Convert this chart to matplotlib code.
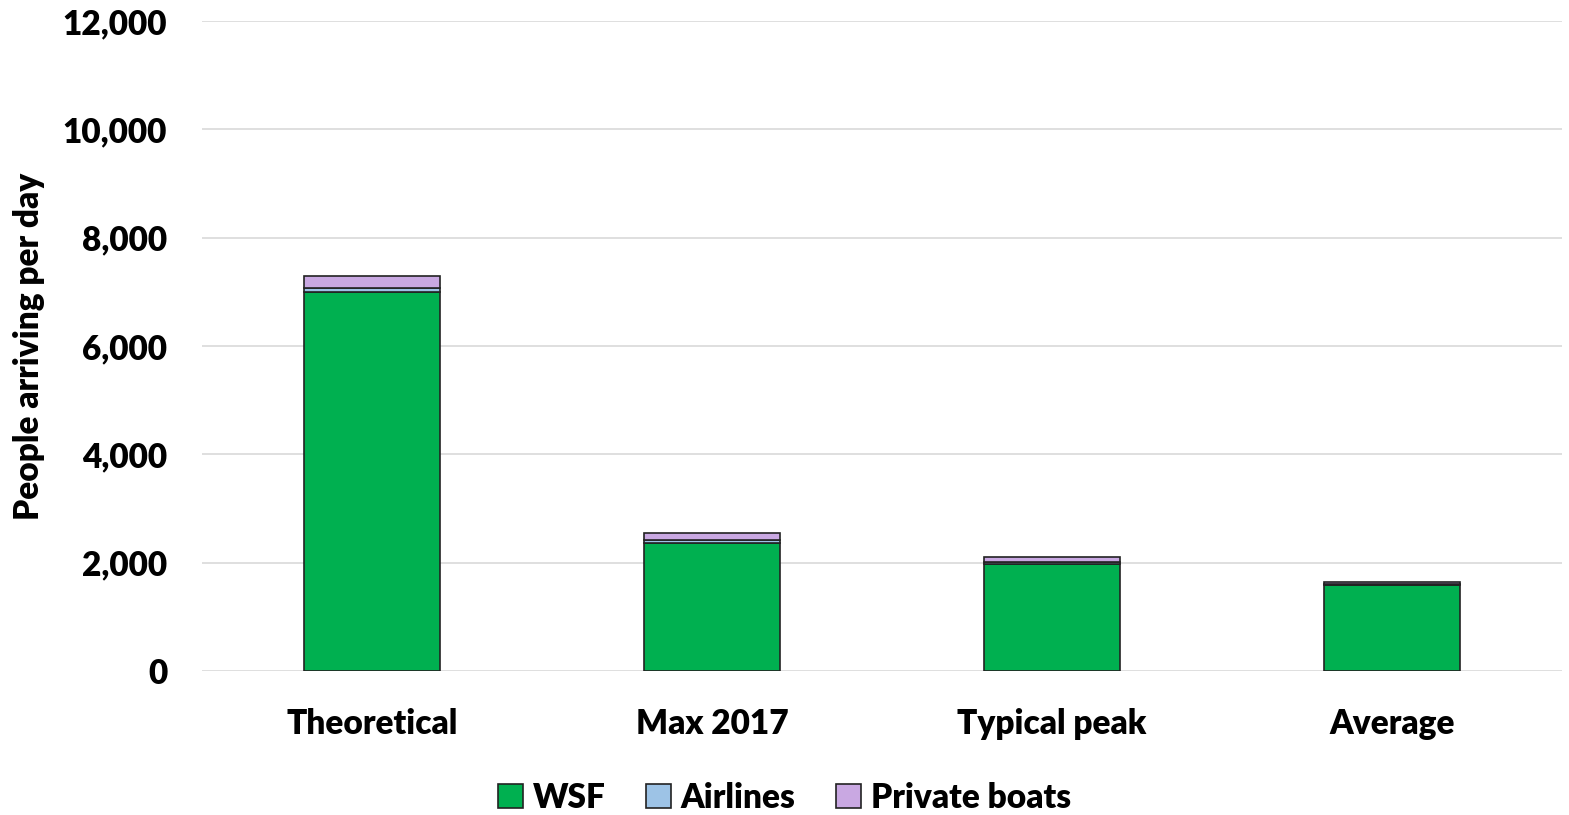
import matplotlib
matplotlib.use("Agg")
import matplotlib.pyplot as plt
from matplotlib.ticker import FuncFormatter

categories = ["Theoretical", "Max 2017", "Typical peak", "Average"]
wsf = [7000, 2360, 1980, 1580]
airlines = [80, 60, 40, 30]
private_boats = [220, 130, 90, 40]
yticks = [0, 2000, 4000, 6000, 8000, 10000, 12000]

plt.rcParams['font.family'] = ['Lato', 'DejaVu Sans']
FW = 'heavy'
FS = 24

fig = plt.figure(figsize=(15.69, 8.15), dpi=100)
ax = fig.add_axes([0.1287, 0.1767, 0.8668, 0.7975])

x = list(range(len(categories)))
w = 0.4
ec = '#222222'
b1 = ax.bar(x, wsf, width=w, color='#00B050', edgecolor=ec, linewidth=1.2, label='WSF', zorder=3)
b2 = ax.bar(x, airlines, width=w, bottom=wsf, color='#9DC3E6', edgecolor=ec, linewidth=1.2, label='Airlines', zorder=3)
bottom3 = [a + b for a, b in zip(wsf, airlines)]
b3 = ax.bar(x, private_boats, width=w, bottom=bottom3, color='#C9A8E2', edgecolor=ec, linewidth=1.2, label='Private boats', zorder=3)

ax.set_xlim(-0.5, 3.5)
ax.set_ylim(0, 12000)
ax.set_yticks(yticks)
ax.yaxis.set_major_formatter(FuncFormatter(lambda v, p: f"{int(v):,}"))
ax.set_xticks(x)
ax.set_xticklabels(categories)
ax.grid(axis='y', color='#D9D9D9', linewidth=1.2, zorder=0)
for s in ax.spines.values():
    s.set_visible(False)
ax.tick_params(axis='both', length=0, labelsize=FS)
ax.tick_params(axis='x', pad=27)
ax.tick_params(axis='y', pad=25)
for lab in ax.get_xticklabels() + ax.get_yticklabels():
    lab.set_fontweight(FW)
ax.set_ylabel("People arriving per day", fontsize=FS, fontweight=FW)
ax.yaxis.set_label_coords(-0.1154, 0.5)

leg = fig.legend(handles=[b1, b2, b3], loc='center', bbox_to_anchor=(0.5, 0.021), ncol=3,
                 frameon=False, fontsize=FS, handlelength=0.75, handleheight=0.75,
                 handletextpad=0.3, columnspacing=1.2)
for t in leg.get_texts():
    t.set_fontweight(FW)

fig.savefig("out.png", dpi=100)
